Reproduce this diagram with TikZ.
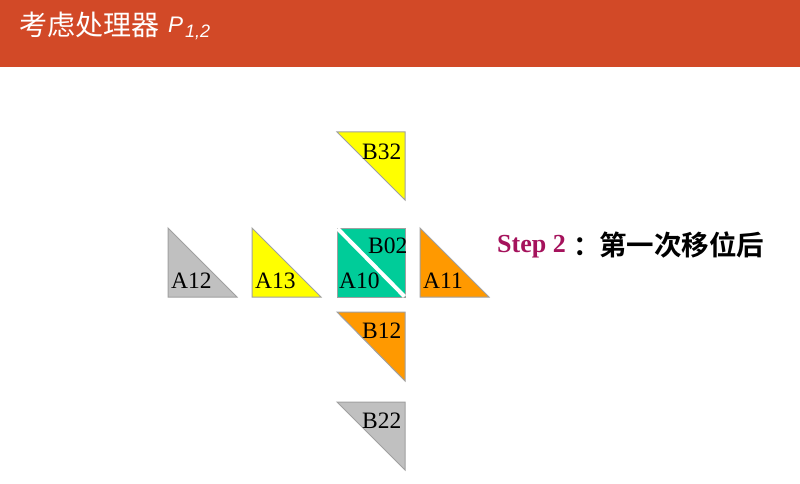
\documentclass[tikz,border=0pt]{standalone}
\usepackage{fontspec}
\setmainfont{Liberation Serif}
\newfontfamily\cjk{Noto Sans CJK SC}
\newfontfamily\cjkb{Noto Sans CJK SC Bold}
\newfontfamily\hdsans{Liberation Sans}
\definecolor{hdr}{RGB}{210,73,39}
\definecolor{stepc}{RGB}{165,18,92}
\definecolor{tgray}{RGB}{192,192,192}
\definecolor{tyel}{RGB}{255,255,0}
\definecolor{torg}{RGB}{255,153,0}
\definecolor{tgrn}{RGB}{0,204,153}
\definecolor{edge}{RGB}{160,160,160}
\tikzset{
  tri/.style={draw=edge, line width=1pt, line join=miter},
  lbl/.style={anchor=base west, inner sep=0pt, font=\fontsize{23.5}{23.5}\selectfont},
  plain/.style={anchor=base west, inner sep=0pt},
}
\begin{document}
\begin{tikzpicture}[x=1pt,y=-1pt]
\useasboundingbox (0,0) rectangle (800,484);
\fill[white] (0,0) rectangle (800,484);
% header
\fill[hdr] (0,0) rectangle (800,67);
\node[plain, text=white, font=\cjk\fontsize{28}{28}\selectfont] (title) at (19,35.5) {考虑处理器};
\node[plain, text=white, font=\hdsans\itshape\fontsize{22.5}{22.5}\selectfont] (tp) at (168,33) {P};
\node[plain, text=white, font=\hdsans\itshape\fontsize{18}{18}\selectfont] (tsub) at (185,38) {1,2};
% B32 (upper-right triangle)
\filldraw[tri, fill=tyel] (337,132) -- (405,132) -- (405,200) -- cycle;
\node[lbl] (b32) at (362,159) {B32};
% A12
\filldraw[tri, fill=tgray] (168,228) -- (168,297) -- (237,297) -- cycle;
\node[lbl] (a12) at (171,288) {A12};
% A13
\filldraw[tri, fill=tyel] (252,228) -- (252,297) -- (321,297) -- cycle;
\node[lbl] (a13) at (255,288) {A13};
% A10 / B02 square
\filldraw[tri, fill=tgrn] (337,228) rectangle (405,297);
\draw[white, line width=4pt] (337.5,228.5) -- (404.5,296.5);
\node[lbl] (a10) at (339,288) {A10};
\node[lbl] (b02) at (368,253) {B02};
% A11
\filldraw[tri, fill=torg] (420,228) -- (420,297) -- (489,297) -- cycle;
\node[lbl] (a11) at (423,288) {A11};
% B12
\filldraw[tri, fill=torg] (337,312) -- (405,312) -- (405,381) -- cycle;
\node[lbl] (b12) at (362,338) {B12};
% B22
\filldraw[tri, fill=tgray] (337,402) -- (405,402) -- (405,470) -- cycle;
\node[lbl] (b22) at (362,428) {B22};
% step text
\node[plain, text=stepc, font=\fontsize{26}{26}\selectfont\bfseries] (step) at (497,252) {Step 2};
\node[plain, font=\cjkb\fontsize{27}{27}\selectfont] (colon) at (573,255) {：};
\node[plain, font=\cjkb\fontsize{27.5}{27.5}\selectfont] (cn) at (599,255) {第一次移位后};
\end{tikzpicture}
\end{document}
